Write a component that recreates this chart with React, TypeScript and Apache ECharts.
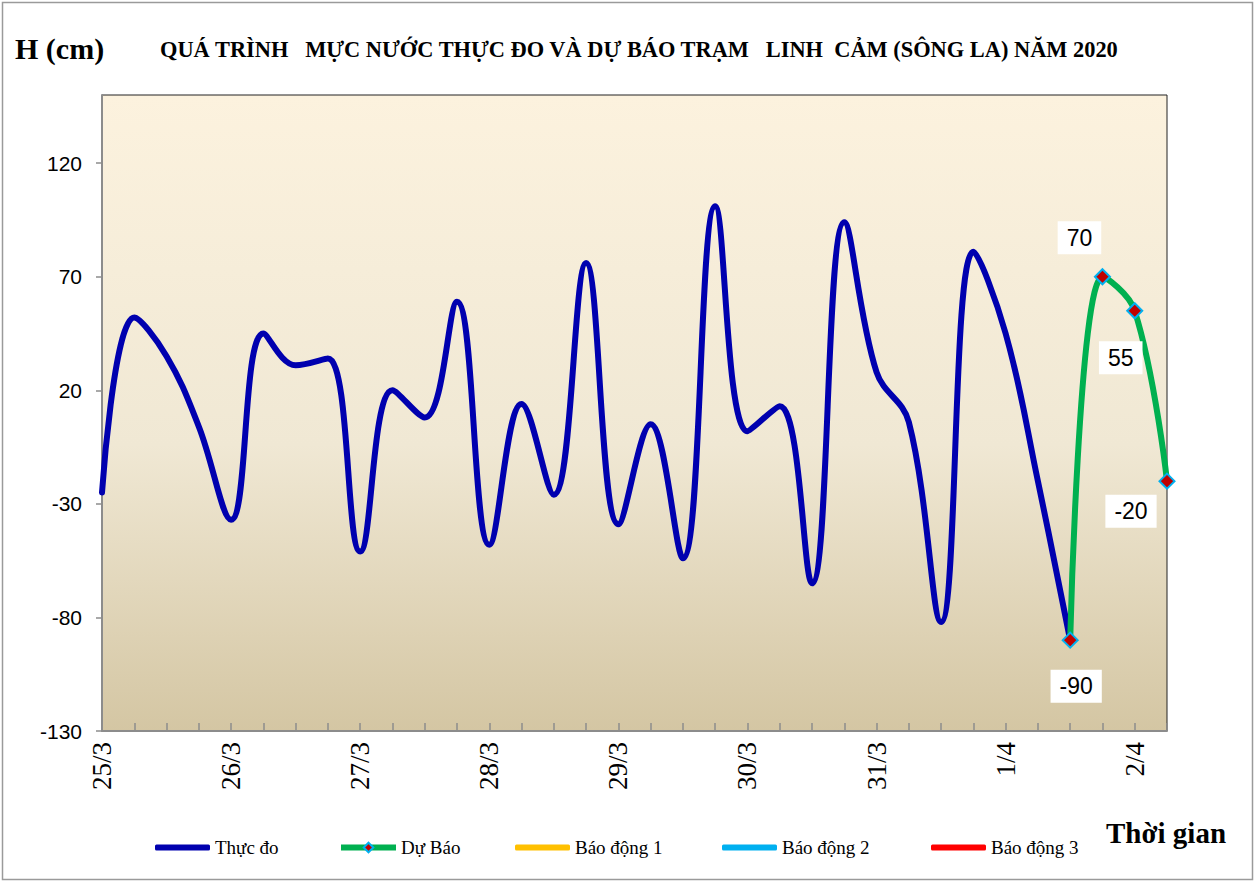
import React, { useEffect, useRef } from "react";
import * as echarts from "echarts";

// ---- data ----
const dayLabels = ["25/3", "26/3", "27/3", "28/3", "29/3", "30/3", "31/3", "1/4", "2/4"];
const hourLabels = ["00h", "06h", "12h", "18h"];
const categoryCount = 34;

const observedValues = [
  -25, 52, 35, 4, -37, 45, 31, 34, -51, 20, 8, 59, -48, 14, -26, 76,
  -39, 5, -54, 101, 2, 13, -65, 94, 28, 6, -82, 81, 45, -20, -90,
];
const forecastStartIndex = 30;
const forecastValues = [-90, 70, 55, -20];

const yMin = -130;
const yMax = 150;
const yInterval = 50;

const seriesNames = ["Thực đo", "Dự Báo", "Báo động 1", "Báo động 2", "Báo động 3"];
const seriesColors = ["#0000AF", "#00B050", "#FFC000", "#00B0F0", "#FF0000"];

const titleText = "QUÁ TRÌNH   MỰC NƯỚC THỰC ĐO VÀ DỰ BÁO TRẠM   LINH  CẢM (SÔNG LA) NĂM 2020";

export default function App() {
  const ref = useRef<HTMLDivElement>(null);

  useEffect(() => {
    document.body.style.margin = "0";
    const chart = echarts.init(ref.current!, null, { renderer: "svg" });

    const categories: string[] = [];
    for (let d = 0; d < dayLabels.length; d++) {
      for (let h = 0; h < hourLabels.length; h++) {
        if (categories.length < categoryCount) categories.push(dayLabels[d] + " " + hourLabels[h]);
      }
    }

    const observedData: (number | null)[] = categories.map((_, i) =>
      i < observedValues.length ? observedValues[i] : null
    );
    const labelOffsets = [
      [6, 46],
      [-23, -39],
      [-14, 47],
      [-36, 30],
    ];
    const forecastData: any[] = categories.map((_, i) => {
      const k = i - forecastStartIndex;
      if (k < 0 || k >= forecastValues.length) return null;
      return {
        value: forecastValues[k],
        label: { offset: labelOffsets[k] },
      };
    });

    const serif = "'Liberation Serif', 'Times New Roman', serif";
    const sans = "'Liberation Sans', Arial, sans-serif";

    const legendLefts = [150, 333, 510, 717, 926];

    const option: any = {
      animation: false,
      backgroundColor: "#ffffff",
      grid: {
        left: 102,
        right: 89,
        top: 95,
        bottom: 152,
        show: true,
        borderColor: "#222",
        borderWidth: 1,
        backgroundColor: new echarts.graphic.LinearGradient(0, 0, 0, 1, [
          { offset: 0, color: "#FCF2DE" },
          { offset: 0.55, color: "#F0E8D4" },
          { offset: 1, color: "#D4C6A3" },
        ]),
      },
      legend: seriesNames.map((n, i) =>
        i === 1
          ? {
              data: [n],
              left: legendLefts[i],
              top: 833,
              itemWidth: 55,
              itemHeight: 12,
              itemGap: 4,
              lineStyle: { width: 6 },
              textStyle: { fontFamily: serif, fontSize: 19, color: "#000" },
              selectedMode: false,
            }
          : {
              data: [{ name: n, icon: "roundRect" }],
              left: legendLefts[i],
              top: 833,
              itemWidth: 55,
              itemHeight: 6,
              itemGap: 4,
              textStyle: { fontFamily: serif, fontSize: 19, color: "#000" },
              selectedMode: false,
            }
      ),
      xAxis: {
        type: "category",
        data: categories,
        boundaryGap: false,
        axisLine: { onZero: false, lineStyle: { color: "#8c8c8c", width: 2 } },
        axisTick: { show: true, inside: true, length: 8, interval: 0, lineStyle: { color: "#8c8c8c", width: 1.5 } },
        axisLabel: {
          interval: 0,
          rotate: 90,
          margin: 11,
          fontFamily: serif,
          fontSize: 27,
          color: "#000",
          formatter: (v: string) => (v.endsWith(hourLabels[0]) ? v.split(" ")[0] : ""),
        },
        splitLine: { show: false },
      },
      yAxis: {
        type: "value",
        min: yMin,
        max: yMax,
        interval: yInterval,
        axisLine: { show: true, lineStyle: { color: "#8c8c8c", width: 2 } },
        axisTick: { show: true, length: 6, lineStyle: { color: "#8c8c8c", width: 1.5 } },
        axisLabel: {
          showMaxLabel: false,
          margin: 20,
          fontFamily: sans,
          fontSize: 21,
          color: "#000",
        },
        splitLine: { show: false },
      },
      series: [
        {
          name: seriesNames[0],
          type: "line",
          data: observedData,
          smooth: 0.4,
          symbol: "none",
          lineStyle: { color: seriesColors[0], width: 6, cap: "round" },
          itemStyle: { color: seriesColors[0] },
          z: 3,
        },
        {
          name: seriesNames[1],
          type: "line",
          data: forecastData,
          smooth: 0.4,
          symbol: "diamond",
          symbolSize: 15,
          lineStyle: { color: seriesColors[1], width: 6 },
          itemStyle: { color: "#C00000", borderColor: "#00B0F0", borderWidth: 2 },
          label: {
            show: true,
            position: "inside",
            fontFamily: sans,
            fontSize: 23,
            color: "#000",
            backgroundColor: "#ffffff",
            padding: [6, 9, 4, 9],
          },
          z: 4,
        },
        ...[2, 3, 4].map((i) => ({
          name: seriesNames[i],
          type: "line",
          data: [],
          symbol: "none",
          lineStyle: { color: seriesColors[i], width: 6 },
          itemStyle: { color: seriesColors[i] },
        })),
      ],
      graphic: [
        {
          type: "rect",
          shape: { x: 2.5, y: 2.5, width: 1250, height: 877 },
          style: { fill: "none", stroke: "#9a9a9a", lineWidth: 1.5 },
          silent: true,
        },
        {
          type: "text",
          left: 15,
          top: 33,
          style: { text: "H (cm)", font: "bold 30px " + serif, fill: "#000" },
        },
        {
          type: "text",
          left: 160,
          top: 38,
          style: { text: titleText, font: "bold 22.4px " + serif, fill: "#000" },
        },
        {
          type: "text",
          left: 1106,
          top: 818,
          style: { text: "Thời gian", font: "bold 29px " + serif, fill: "#000" },
        },
      ],
    };

    chart.setOption(option);
    return () => chart.dispose();
  }, []);

  return <div ref={ref} style={{ width: 1256, height: 883 }} />;
}
